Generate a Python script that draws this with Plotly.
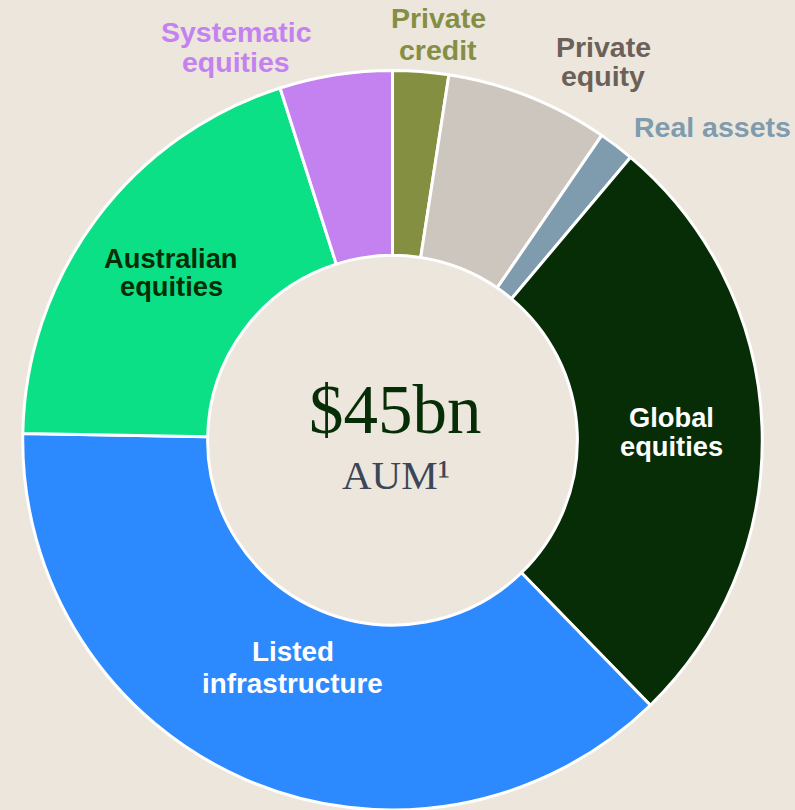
import plotly.graph_objects as go

# ---- data ----
categories = ["Private credit", "Private equity", "Real assets", "Global equities",
              "Listed infrastructure", "Australian equities", "Systematic equities"]
shares = [2.44, 7.14, 1.56, 26.6, 37.6, 19.8, 4.92]
center_value = "$45bn"
center_caption = "AUM¹"

# ---- styles ----
slice_colors = ["#848F42", "#CDC6BF", "#7F9BAE", "#072D06", "#2D8AFE", "#0BE087", "#C382EF"]
BG = "#EDE6DD"
W, H = 795, 810

# label lines: (lines, x px, baselines px, colour, font size)
label_layout = {
    "Systematic equities": (["Systematic", "equities"], 236, [41.7, 71.7], "#C382EF", 28.5),
    "Private credit": (["Private", "credit"], 438, [28.3, 60.0], "#848F42", 28.5),
    "Private equity": (["Private", "equity"], 603, [56.7, 86.0], "#6B6158", 28.5),
    "Real assets": (["Real assets"], 712, [137.3], "#7F9BAE", 28.5),
    "Australian equities": (["Australian", "equities"], 171, [268.0, 296.0], "#072D06", 27.3),
    "Global equities": (["Global", "equities"], 671, [427.0, 456.0], "#FFFFFF", 27.3),
    "Listed infrastructure": (["Listed", "infrastructure"], 292.5, [661.0, 693.0], "#FFFFFF", 27.8),
}

fig = go.Figure()
fig.add_trace(go.Pie(
    labels=categories,
    values=shares,
    sort=False,
    direction="clockwise",
    rotation=0,
    hole=0.5,
    marker=dict(colors=slice_colors, line=dict(color="#FFFFFF", width=3)),
    textinfo="none",
    hoverinfo="label+percent",
    showlegend=False,
    domain=dict(x=[22 / W, (22 + 741) / W], y=[0, 0.913]),
))

annotations = []
for cat in categories:
    lines, xpx, baselines, col, fs = label_layout[cat]
    for txt, bl in zip(lines, baselines):
        cy = bl - 0.3465 * fs
        annotations.append(dict(
            text=f"<b>{txt}</b>", x=xpx / W, y=1 - cy / H, xref="paper", yref="paper",
            xanchor="center", yanchor="middle", showarrow=False,
            font=dict(family="Liberation Sans, Arial, sans-serif", size=fs, color=col),
        ))

annotations.append(dict(
    text=center_value, x=395 / W, y=1 - (433 - 0.3375 * 69) / H, xref="paper", yref="paper",
    xanchor="center", yanchor="middle", showarrow=False,
    font=dict(family="Liberation Serif, Times New Roman, serif", size=69, color="#072D06"),
))
annotations.append(dict(
    text=center_caption, x=395.5 / W, y=1 - (489 - 0.3375 * 41) / H, xref="paper", yref="paper",
    xanchor="center", yanchor="middle", showarrow=False,
    font=dict(family="Liberation Serif, Times New Roman, serif", size=41, color="#3B4656"),
))

fig.update_layout(
    width=W, height=H,
    margin=dict(l=0, r=0, t=0, b=0),
    paper_bgcolor=BG, plot_bgcolor=BG,
    annotations=annotations,
)

fig.write_html(
    "out.html",
    config={"displayModeBar": False},
    post_script="document.body.style.margin='0';document.body.style.padding='0';"
                "document.body.style.overflow='hidden';document.body.style.background='" + BG + "';",
)
